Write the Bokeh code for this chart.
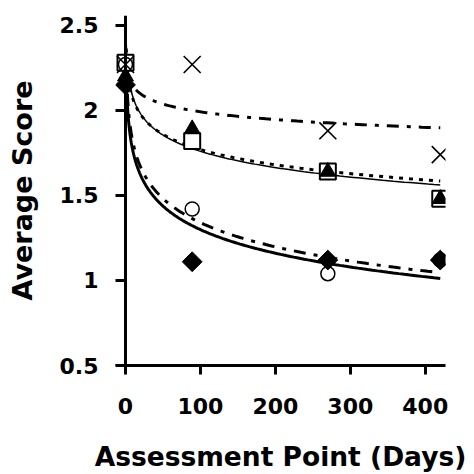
import numpy as np
from bokeh.plotting import figure
from bokeh.models import LinearAxis, FixedTicker, Range1d
from bokeh.embed import file_html
from bokeh.resources import INLINE

# ---- data ----
days = [0, 89, 270, 420]
score_cross = [2.27, 2.27, 1.88, 1.74]
score_square = [2.28, 1.82, 1.64, 1.48]
score_triangle = [2.20, 1.89, 1.64, 1.48]
score_circle = [2.27, 1.42, 1.04, 1.12]
score_diamond = [2.15, 1.11, 1.12, 1.12]

# logarithmic trendlines (score = intercept - slope * ln(day))
# order: cross, square, triangle, circle, diamond
trend_intercept = [2.296, 2.364, 2.395, 2.284, 2.220]
trend_slope = [0.066, 0.129, 0.138, 0.205, 0.200]

x_ticks = [0, 100, 200, 300, 400]
y_ticks = [0.5, 1, 1.5, 2, 2.5]
y_tick_labels = ["0.5", "1", "1.5", "2", "2.5"]
x_title = "Assessment Point (Days)"
y_title = "Average Score"

FONT = "DejaVu Sans"


def log_trend(i):
    xx = np.geomspace(1.0, max(days), 300)
    return xx, trend_intercept[i] - trend_slope[i] * np.log(xx)


p = figure(width=474, height=474,
           x_range=Range1d(-13.33, 427), y_range=Range1d(0.5, 2.558),
           output_backend="svg", toolbar_location=None,
           y_axis_location=None,
           min_border_left=115, min_border_right=29,
           min_border_top=15, min_border_bottom=106)
p.outline_line_color = None
p.grid.visible = False
p.background_fill_color = "white"
p.border_fill_color = "white"

# trendlines
styles = [dict(line_width=3, line_dash="12 8 4 8"),
          dict(line_width=3, line_dash="4 6"),
          dict(line_width=1.5),
          dict(line_width=3, line_dash="12 8 4 8"),
          dict(line_width=3)]
for i, st in enumerate(styles):
    xx, yy = log_trend(i)
    p.line(xx, yy, line_color="black", **st)

# markers
p.scatter(days, score_square, marker="square", size=16, fill_color="white",
          line_color="black", line_width=2)
p.scatter(days, score_circle, marker="circle", size=14, fill_color="white",
          line_color="black", line_width=1.5)
p.scatter(days, score_triangle, marker="triangle", size=16, fill_color="black",
          line_color="black", line_width=1)
p.scatter(days, score_diamond, marker="square", angle=np.pi / 4, size=14,
          fill_color="black", line_color="black", line_width=1)
p.scatter(days, score_cross, marker="x", size=24, line_color="black",
          line_width=1.6)

# x axis
xa = p.xaxis[0]
xa.ticker = FixedTicker(ticks=x_ticks)
xa.axis_line_width = 3
xa.axis_line_color = "black"
xa.major_tick_line_width = 3
xa.major_tick_line_color = "black"
xa.major_tick_out = 9
xa.major_tick_in = 0
xa.minor_tick_line_color = None
xa.major_label_text_font = FONT
xa.major_label_text_font_style = "bold"
xa.major_label_text_font_size = "22px"
xa.major_label_text_color = "black"
xa.major_label_standoff = 23
xa.axis_label = x_title
xa.axis_label_text_font = FONT
xa.axis_label_text_font_style = "bold"
xa.axis_label_text_font_size = "26.5px"
xa.axis_label_text_color = "black"
xa.axis_label_standoff = 24

# y axis labels and title at the frame edge (no line / ticks)
yl = LinearAxis()
yl.ticker = FixedTicker(ticks=y_ticks)
yl.major_label_overrides = dict(zip(y_ticks, y_tick_labels))
yl.axis_line_color = None
yl.major_tick_line_color = None
yl.minor_tick_line_color = None
yl.major_tick_out = 0
yl.major_tick_in = 0
yl.major_label_text_font = FONT
yl.major_label_text_font_style = "bold"
yl.major_label_text_font_size = "22px"
yl.major_label_text_color = "black"
yl.major_label_standoff = 17
yl.axis_label = y_title
yl.axis_label_text_font = FONT
yl.axis_label_text_font_style = "bold"
yl.axis_label_text_font_size = "27px"
yl.axis_label_text_color = "black"
yl.axis_label_standoff = 19
p.add_layout(yl, "left")

# y axis line and ticks at x = 0
ya = LinearAxis(fixed_location=0)
ya.ticker = FixedTicker(ticks=y_ticks)
ya.axis_line_width = 3
ya.axis_line_color = "black"
ya.major_tick_line_width = 3
ya.major_tick_line_color = "black"
ya.major_tick_out = 11
ya.major_tick_in = 0
ya.minor_tick_line_color = None
ya.major_label_text_alpha = 0
p.add_layout(ya, "left")

open("out.html", "w").write(file_html(p, INLINE))
